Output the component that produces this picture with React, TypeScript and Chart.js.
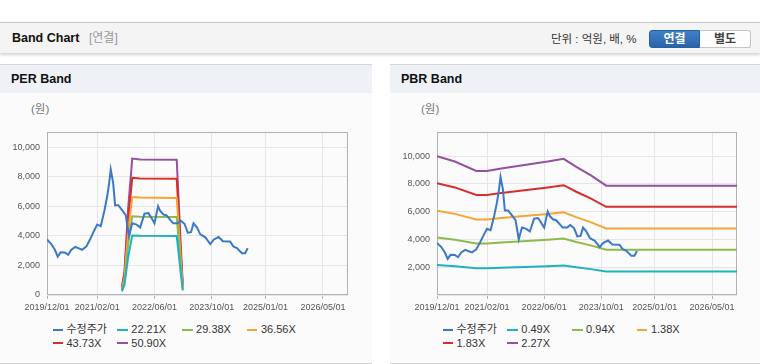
import React, { useEffect, useRef } from "react";
import { Chart, registerables } from "chart.js";

Chart.register(...registerables);

const FONT = "'Liberation Sans', Arial, 'Noto Sans CJK KR', sans-serif";

// ---------- data ----------
const xTickLabels = ["2019/12/01", "2021/02/01", "2022/06/01", "2023/10/01", "2025/01/01", "2026/05/01"];
const xStartDate = "2019/12/01";
const xEndDate = "2026/12/01";
const yTickValues = [0, 2000, 4000, 6000, 8000, 10000];

const priceDates = [
  "2019/12/01", "2020/01/07", "2020/02/07", "2020/03/01", "2020/03/25", "2020/05/01", "2020/05/28",
  "2020/06/25", "2020/07/28", "2020/08/28", "2020/09/25", "2020/11/01", "2020/12/01", "2020/12/28",
  "2021/02/01", "2021/03/01", "2021/04/01", "2021/04/25", "2021/05/12", "2021/05/25", "2021/06/15",
  "2021/07/01", "2021/07/28", "2021/09/01", "2021/10/01", "2021/10/28", "2021/11/25", "2022/01/01",
  "2022/02/01", "2022/03/07", "2022/04/10", "2022/05/01", "2022/06/01", "2022/07/01", "2022/07/19",
  "2022/08/15", "2022/09/12", "2022/11/07", "2022/12/15", "2023/01/10", "2023/02/12", "2023/03/10",
  "2023/04/07", "2023/04/28", "2023/05/25", "2023/06/25", "2023/08/07", "2023/09/18", "2023/10/18",
  "2023/11/28", "2024/01/04", "2024/03/04", "2024/04/01", "2024/05/01", "2024/06/13", "2024/07/10",
  "2024/08/01",
];
const priceValues = [
  3750, 3450, 3060, 2600, 2890, 2880, 2720,
  3060, 3250, 3150, 3060, 3290, 3750, 4220,
  4760, 4660, 5680, 6660, 7590, 8500, 7590,
  6080, 6080, 5730, 5380, 4000, 4850, 4760,
  4570, 5500, 5540, 5270, 4850, 6010, 5680,
  5450, 5380, 4850, 4850, 5030, 4820, 4220,
  4250, 4850, 4590, 4100, 3900, 3450, 3760,
  3920, 3640, 3620, 3290, 3180, 2830, 2830,
  3170,
];

const perBandDates = [
  "2021/08/28", "2021/09/20", "2021/10/20", "2021/11/25", "2022/02/01",
  "2022/12/07", "2022/12/20", "2023/01/10", "2023/01/28",
];
const per2221 = [240, 700, 2530, 4030, 4000, 3990, 3050, 1530, 305];
const per2938 = [317, 925, 3350, 5330, 5290, 5280, 4040, 2020, 400];
const per3656 = [395, 1150, 4170, 6630, 6590, 6570, 5030, 2510, 500];
const per4373 = [470, 1370, 4980, 7930, 7880, 7860, 6010, 3010, 600];
const per5090 = [550, 1600, 5800, 9230, 9170, 9150, 7000, 3500, 700];

const pbrBandDates = [
  "2019/12/01", "2020/05/01", "2020/11/01", "2021/02/01", "2021/06/01", "2022/07/01",
  "2022/11/15", "2023/03/01", "2023/07/01", "2023/11/12", "2026/12/01",
];
const pbr049 = [2156, 2073, 1928, 1928, 1965, 2073, 2115, 1989, 1862, 1699, 1699];
const pbr094 = [4136, 3976, 3698, 3698, 3769, 3976, 4058, 3816, 3572, 3259, 3259];
const pbr138 = [6072, 5837, 5429, 5429, 5534, 5837, 5957, 5603, 5244, 4784, 4784];
const pbr183 = [8052, 7741, 7199, 7199, 7338, 7741, 7900, 7430, 6954, 6345, 6345];
const pbr227 = [9988, 9602, 8930, 8930, 9103, 9602, 9800, 9216, 8626, 7870, 7870];

const perLabels = ["수정주가", "22.21X", "29.38X", "36.56X", "43.73X", "50.90X"];
const pbrLabels = ["수정주가", "0.49X", "0.94X", "1.38X", "1.83X", "2.27X"];
const seriesColors = ["#3b78c6", "#1fb1c0", "#8cba4d", "#f5a533", "#d42f2a", "#96509e"];

// ---------- helpers ----------
function toMonth(s: string): number {
  const [y, m, d] = s.split("/").map(Number);
  const [y0, m0] = xStartDate.split("/").map(Number);
  return (y - y0) * 12 + (m - m0) + (d - 1) / 30.4;
}

type Series = { label: string; color: string; dates: string[]; values: number[] };

const framePlugin = {
  id: "frame",
  beforeDatasetsDraw(chart: any) {
    const { ctx, chartArea } = chart;
    ctx.save();
    ctx.strokeStyle = "#b2b2b2";
    ctx.lineWidth = 1;
    ctx.strokeRect(
      Math.round(chartArea.left) + 0.5,
      Math.round(chartArea.top) + 0.5,
      Math.round(chartArea.right - chartArea.left) - 1,
      Math.round(chartArea.bottom - chartArea.top) - 1
    );
    ctx.restore();
  },
};

function BandPanel(props: {
  left: number;
  width: number;
  title: string;
  series: Series[];
  yMax: number;
  hideZero: boolean;
  rightPad: number;
}) {
  const ref = useRef<HTMLCanvasElement | null>(null);
  const { left, width, title, series, yMax, hideZero, rightPad } = props;

  useEffect(() => {
    if (!ref.current) return;
    const chart = new Chart(ref.current, {
      type: "line",
      data: {
        datasets: series.map((s) => ({
          label: s.label,
          data: s.dates.map((d, i) => ({ x: toMonth(d), y: s.values[i] })),
          borderColor: s.color,
          backgroundColor: s.color,
          borderWidth: 2,
          pointRadius: 0,
          tension: 0,
          fill: false,
        })),
      },
      options: {
        animation: false,
        responsive: false,
        events: [],
        layout: { padding: { top: 8.3, right: rightPad, left: 0, bottom: 0 } },
        plugins: { legend: { display: false }, tooltip: { enabled: false } },
        scales: {
          x: {
            type: "linear",
            min: 0,
            max: toMonth(xEndDate),
            afterBuildTicks: (s: any) => {
              s.ticks = xTickLabels.map((l) => ({ value: toMonth(l) }));
            },
            afterFit: (s: any) => {
              s.height = 25;
            },
            ticks: {
              autoSkip: false,
              maxRotation: 0,
              padding: 3,
              color: "#555",
              font: { family: FONT, size: 9 },
              callback: (_v: any, i: number) => xTickLabels[i],
            },
            grid: { color: "#e6e6e6", tickLength: 4, tickColor: "#b2b2b2" },
            border: { display: false },
          },
          y: {
            type: "linear",
            min: 0,
            max: yMax,
            afterBuildTicks: (s: any) => {
              s.ticks = yTickValues.map((v) => ({ value: v }));
            },
            afterFit: (s: any) => {
              s.width = 47;
            },
            ticks: {
              autoSkip: false,
              padding: 7,
              color: "#555",
              font: { family: FONT, size: 9 },
              callback: (v: any) => (hideZero && v === 0 ? "" : Number(v).toLocaleString("en-US")),
            },
            grid: { color: "#e6e6e6", drawTicks: false },
            border: { display: false },
          },
        },
      },
      plugins: [framePlugin],
    } as any);
    return () => chart.destroy();
  }, []);

  return (
    <>
      <div
        style={{
          position: "absolute",
          left,
          top: 64,
          width,
          height: 298,
          borderTop: "1px solid #d6d6d6",
          borderBottom: "1px solid #d2d2d2",
          background: "#fbfbfb",
        }}
      >
        <div
          style={{
            height: 28,
            background: "#eef2f7",
            fontFamily: FONT,
            fontWeight: "bold",
            fontSize: 12.5,
            lineHeight: "28px",
            paddingLeft: 11,
            color: "#111",
          }}
        >
          {title}
        </div>
      </div>
      <div
        style={{
          position: "absolute",
          left: left + 31,
          top: 101,
          fontFamily: FONT,
          fontSize: 11.5,
          lineHeight: "16px",
          color: "#777",
        }}
      >
        (원)
      </div>
      <canvas
        ref={ref}
        width={width}
        height={200}
        style={{ position: "absolute", left, top: 120, width, height: 200, display: "block" }}
      />
      <div
        style={{
          position: "absolute",
          left: left + 52.5,
          top: 323.3,
          display: "grid",
          gridTemplateColumns: "64.8px 64.8px 64.8px 64.8px",
          gridAutoRows: "13.3px",
          fontFamily: FONT,
          fontSize: 11,
          color: "#333",
        }}
      >
        {series.map((s) => (
          <div key={s.label} style={{ display: "flex", alignItems: "center", whiteSpace: "nowrap" }}>
            <span
              style={{
                display: "inline-block",
                width: 10.5,
                height: 2.5,
                background: s.color,
                marginRight: 3.5,
              }}
            />
            <span style={{ lineHeight: "13.3px" }}>{s.label}</span>
          </div>
        ))}
      </div>
    </>
  );
}

export default function App() {
  if (typeof document !== "undefined") document.body.style.margin = "0";

  const perValues = [priceValues, per2221, per2938, per3656, per4373, per5090];
  const pbrValues = [priceValues, pbr049, pbr094, pbr138, pbr183, pbr227];

  const perSeries: Series[] = perLabels.map((l, i) => ({
    label: l,
    color: seriesColors[i],
    dates: i === 0 ? priceDates : perBandDates,
    values: perValues[i],
  }));
  const pbrSeries: Series[] = pbrLabels.map((l, i) => ({
    label: l,
    color: seriesColors[i],
    dates: i === 0 ? priceDates : pbrBandDates,
    values: pbrValues[i],
  }));

  return (
    <div style={{ position: "relative", width: 760, height: 364, background: "#fff", overflow: "hidden" }}>
      {/* top header */}
      <div
        style={{
          position: "absolute",
          left: 0,
          top: 22,
          width: 760,
          height: 30,
          background: "#f4f4f4",
          borderTop: "1px solid #c6c6c6",
          boxShadow: "0 2px 3px rgba(0,0,0,0.18)",
        }}
      />
      <div
        style={{
          position: "absolute",
          left: 12,
          top: 30,
          fontFamily: FONT,
          fontWeight: "bold",
          fontSize: 12.5,
          lineHeight: "16px",
          color: "#111",
        }}
      >
        Band Chart
      </div>
      <div
        style={{
          position: "absolute",
          left: 89,
          top: 30,
          fontFamily: FONT,
          fontSize: 12,
          lineHeight: "16px",
          color: "#999",
        }}
      >
        [연결]
      </div>
      <div
        style={{
          position: "absolute",
          left: 551,
          top: 31,
          fontFamily: FONT,
          fontSize: 11.5,
          lineHeight: "16px",
          color: "#333",
        }}
      >
        단위 : 억원, 배, %
      </div>
      <div
        style={{
          position: "absolute",
          left: 649,
          top: 30,
          width: 51,
          height: 18,
          background: "linear-gradient(#3f80c8, #2a64a9)",
          border: "1px solid #2a5f9e",
          borderRadius: "3px 0 0 3px",
          boxSizing: "border-box",
          color: "#fff",
          fontFamily: FONT,
          fontWeight: "bold",
          fontSize: 12,
          lineHeight: "16px",
          textAlign: "center",
        }}
      >
        연결
      </div>
      <div
        style={{
          position: "absolute",
          left: 700,
          top: 30,
          width: 51,
          height: 18,
          background: "#fdfdfd",
          border: "1px solid #c4c4c4",
          borderLeft: "none",
          borderRadius: "0 3px 3px 0",
          boxSizing: "border-box",
          color: "#444",
          fontFamily: FONT,
          fontWeight: "bold",
          fontSize: 12,
          lineHeight: "16px",
          textAlign: "center",
        }}
      >
        별도
      </div>

      <BandPanel left={0} width={372} title="PER Band" series={perSeries} yMax={11000} hideZero={false} rightPad={24} />
      <BandPanel left={390} width={370} title="PBR Band" series={pbrSeries} yMax={11700} hideZero={true} rightPad={23} />
    </div>
  );
}
